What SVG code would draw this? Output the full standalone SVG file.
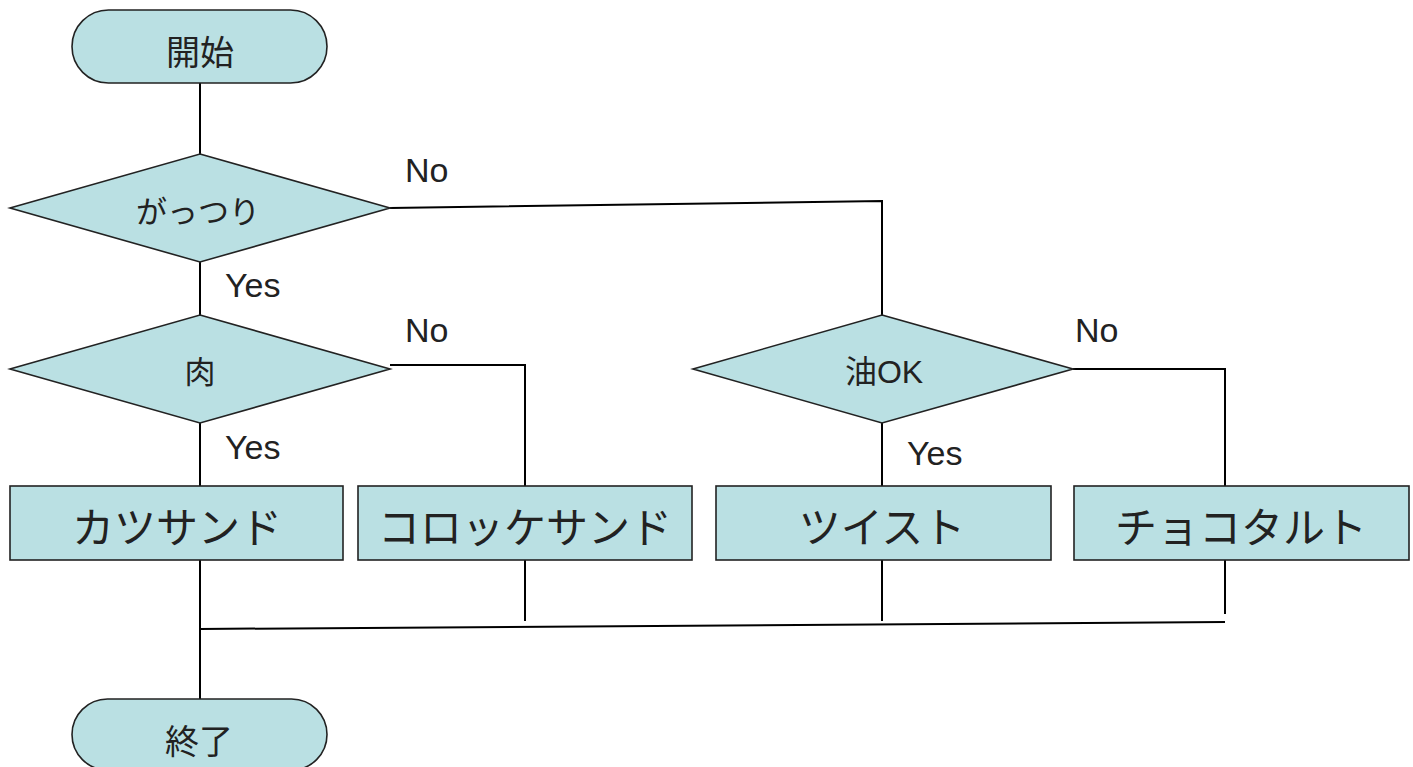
<svg xmlns="http://www.w3.org/2000/svg" width="1413" height="767" viewBox="0 0 1413 767">
<style>
.n{fill:#bae0e3;stroke:#222;stroke-width:1.6}
.c{fill:none;stroke:#000;stroke-width:2}
text{font-family:"Liberation Sans","Noto Sans CJK JP",sans-serif;fill:#222;text-anchor:middle}
.lbl{font-size:34px;text-anchor:start}
.bx{font-size:42px}
</style>
<rect width="1413" height="767" fill="#fff"/>
<g id="connectors">
<path class="c" d="M200 83V154"/>
<path class="c" d="M200 262V315"/>
<path class="c" d="M200 423V486"/>
<path class="c" d="M390 208L882 201V315"/>
<path class="c" d="M390 365H525V496"/>
<path class="c" d="M882 423V486"/>
<path class="c" d="M1073 369H1225V486"/>
<path class="c" d="M200 560V699"/>
<path class="c" d="M525 560V621"/>
<path class="c" d="M882 560V621"/>
<path class="c" d="M1225 560V614"/>
<path class="c" d="M200 629L1225 622"/>
<text class="lbl" x="405" y="182">No</text>
<text class="lbl" x="225" y="297">Yes</text>
<text class="lbl" x="405" y="342">No</text>
<text class="lbl" x="225" y="459">Yes</text>
<text class="lbl" x="1075" y="342">No</text>
<text class="lbl" x="907" y="465">Yes</text>
</g>
<g id="start"><rect class="n" x="72" y="10" width="255" height="73" rx="36.5"/><text x="200" y="65" font-size="34">開始</text></g>
<g id="d1"><polygon class="n" points="200,154 390,208 200,262 10,208"/><text x="198" y="223" font-size="31">がっつり</text></g>
<g id="d2"><polygon class="n" points="200,315 390,369 200,423 10,369"/><text x="200" y="383" font-size="31">肉</text></g>
<g id="d3"><polygon class="n" points="882,315 1073,369 882,423 693,369"/><text x="884" y="383" font-size="32">油OK</text></g>
<g id="b1"><rect class="n" x="10" y="486" width="333" height="74"/><text x="177" y="543" class="bx">カツサンド</text></g>
<g id="b2"><rect class="n" x="358" y="486" width="334" height="74"/><text x="525" y="543" class="bx">コロッケサンド</text></g>
<g id="b3"><rect class="n" x="716" y="486" width="335" height="74"/><text x="882" y="543" class="bx">ツイスト</text></g>
<g id="b4"><rect class="n" x="1074" y="486" width="335" height="74"/><text x="1241" y="543" class="bx">チョコタルト</text></g>
<g id="end"><rect class="n" x="72" y="699" width="255" height="71" rx="35.5"/><text x="199" y="754" font-size="34">終了</text></g>
</svg>
